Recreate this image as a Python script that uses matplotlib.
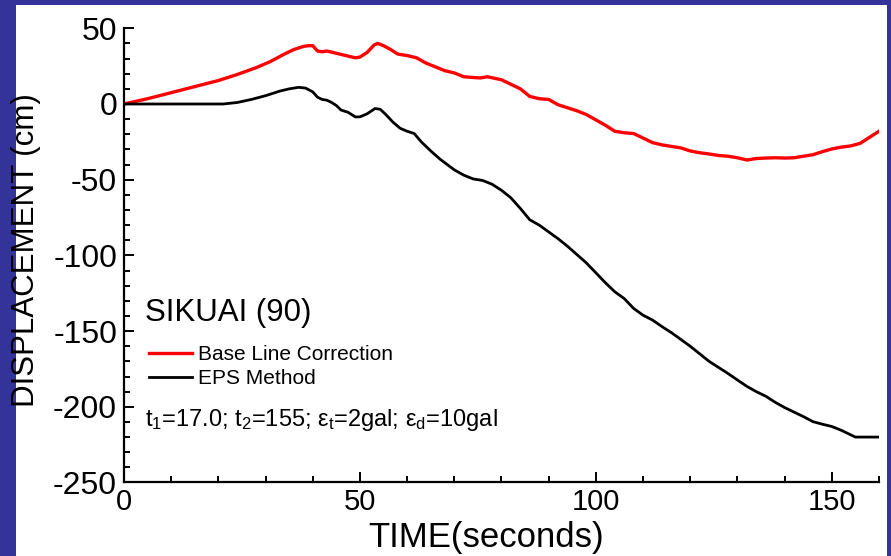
import matplotlib
matplotlib.use('Agg')
import matplotlib.pyplot as plt
from matplotlib.patches import Rectangle
from matplotlib.ticker import MultipleLocator

plt.rcParams['font.family'] = ['Liberation Sans', 'DejaVu Sans']
plt.rcParams['mathtext.fontset'] = 'custom'
plt.rcParams['mathtext.rm'] = 'Liberation Sans'
plt.rcParams['mathtext.default'] = 'regular'
plt.rcParams['axes.unicode_minus'] = False

# displacement records (time in s, displacement in cm)
t_base = [0, 5, 10, 15, 20, 24, 28, 31, 34, 36, 38, 39, 40, 41, 42, 43, 45, 47, 49, 50,
          51.5, 53, 53.8, 55, 56.5, 58, 60, 62, 64, 66, 68, 70, 72, 74, 75.5, 77, 78.5, 80,
          82, 84, 86, 88, 90, 92, 94, 96, 98, 100, 102, 104, 106, 108, 110, 112, 114, 116,
          118, 120, 122, 124, 126, 128, 130, 132, 134, 136, 138, 140, 142, 144, 146, 148,
          150, 152, 154, 156, 158, 160]
d_base = [0, 3.5, 7.5, 11.5, 15.5, 19.5, 24, 28, 33, 36, 38, 38.5, 38.5, 35, 34.5, 35, 33.5,
          32, 30.5, 31, 34, 39, 40, 38.5, 36, 33, 32, 30.5, 27, 24.5, 22, 20.5, 18, 17.5, 17.2,
          18, 17, 16, 13, 10, 5, 3.5, 3, -0.5, -2.5, -4.5, -7, -10.5, -14, -18, -19, -19.5,
          -22.5, -25.5, -27, -28, -29, -31, -32.2, -33, -34, -34.5, -35.5, -37, -36, -35.7,
          -35.5, -35.7, -35.5, -34.5, -33.5, -31.5, -29.7, -28.5, -27.7, -26, -22, -18]

t_eps = [0, 17, 21, 24, 27, 30, 33, 35, 37, 38.5, 40, 41, 42, 43, 44, 45, 46, 47.5, 49, 50,
         51.5, 53.2, 54.3, 55.5, 57, 58.5, 60, 61.5, 63, 65, 67, 68.5, 70, 72, 74, 76, 78,
         80, 82, 84, 86, 88, 90, 92, 94, 96, 98, 100, 102, 104, 106, 108, 110, 112, 114, 116,
         118, 120, 122, 124, 126, 128, 130, 132, 134, 136, 138, 140, 142, 144, 146, 148, 150,
         152, 154, 155, 160]
d_eps = [0, 0, 0, 1, 3, 5.5, 8.5, 10, 11, 10.5, 8, 4.5, 3, 2.5, 1, -1, -4, -5.5, -8.5, -8.5,
         -6.5, -3, -3.5, -7, -12, -16, -18, -19.5, -25, -31, -36.5, -40, -43.5, -47, -49.5,
         -50.5, -53, -57, -62, -69, -76.5, -80, -84.5, -89, -94, -99.5, -105, -111.5, -118,
         -124, -128.5, -135, -139.5, -142.7, -147, -151, -155.5, -160, -165, -170, -174, -178,
         -182.3, -186.5, -190, -193, -197, -200.5, -203.5, -206.5, -209.8, -211.5, -213,
         -215.5, -218.5, -220, -220]

fig = plt.figure(figsize=(8.91, 5.56), dpi=100, facecolor='#333399')
# white slide area inside the blue frame, kept behind the axes
fig.add_artist(Rectangle((16 / 891, 0), 871 / 891, 551 / 556,
                         transform=fig.transFigure, facecolor='white',
                         edgecolor='none', zorder=-10))

ax = fig.add_axes([0.1392, 0.1322, 0.8473, 0.8169])
ax.set_facecolor('none')

ax.plot(t_base, d_base, color='#ff0000', lw=2.4, label='Base Line Correction')
ax.plot(t_eps, d_eps, color='black', lw=2.0, label='EPS Method')

ax.set_xlim(0, 160)
ax.set_ylim(-250, 50)
ax.xaxis.set_major_locator(MultipleLocator(50))
ax.xaxis.set_minor_locator(MultipleLocator(10))
ax.yaxis.set_major_locator(MultipleLocator(50))
ax.yaxis.set_minor_locator(MultipleLocator(10))

for side in ['top', 'right']:
    ax.spines[side].set_visible(False)
for side in ['left', 'bottom']:
    ax.spines[side].set_linewidth(1.6)

ax.tick_params(which='both', direction='in', width=1.4, colors='black')
ax.tick_params(which='major', length=7.5)
ax.tick_params(which='minor', length=4.5)
ax.tick_params(axis='y', which='major', labelsize=23, pad=5)
ax.tick_params(axis='x', which='major', labelsize=21, pad=4)

ax.set_xlabel('TIME(seconds)', fontsize=25)
ax.set_ylabel('DISPLACEMENT (cm)', fontsize=22.5)
ax.xaxis.set_label_coords(0.479, -0.085)
ax.yaxis.set_label_coords(-0.11, 0.512)

ax.text(4.4, -138, 'SIKUAI (90)', fontsize=22.5, va='center', ha='left')
ax.text(4.4, -208.7, 't$_1$=17.0; t$_2$=155; ε$_t$=2gal; ε$_d$=10gal',
        fontsize=17, va='center', ha='left')

ax.legend(loc='upper left', bbox_to_anchor=(149 / 891, (556 - 345) / 556),
          bbox_transform=fig.transFigure, frameon=False, fontsize=15,
          borderpad=0, borderaxespad=0, handlelength=2.05, handletextpad=0.3,
          labelspacing=0.25)

fig.savefig('out.png', dpi=100, facecolor=fig.get_facecolor())
